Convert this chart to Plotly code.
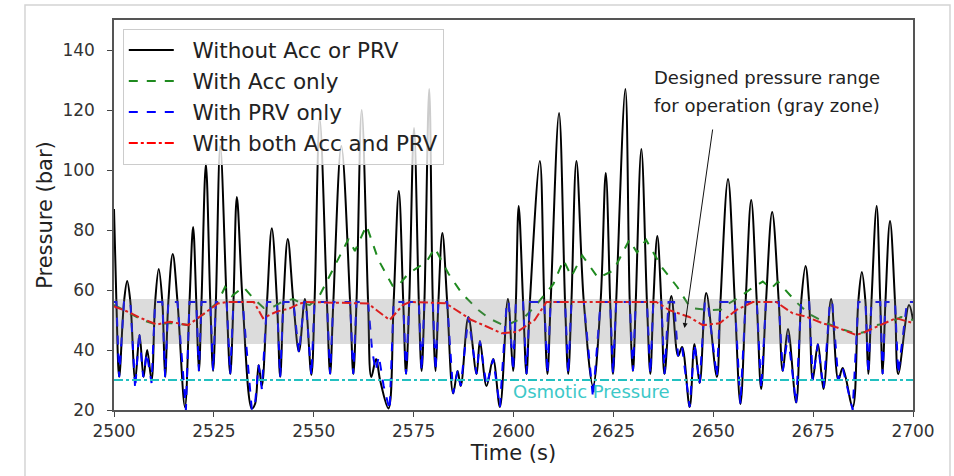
import plotly.graph_objects as go

# ---------------- data ----------------
# Without Acc or PRV: peaks, troughs and 56-bar crossings
t_none = [2500.0, 2500.6, 2501.3, 2502.5, 2503.3, 2504.1, 2505.3, 2506.4, 2507.4, 2508.3,
          2509.4, 2510.3, 2511.2, 2512.1, 2512.8, 2513.6, 2514.7, 2515.9, 2517.75, 2518.9,
          2519.8, 2520.6, 2521.25, 2521.9, 2523.0, 2524.1, 2524.8, 2525.5, 2526.6, 2528.2,
          2529.1, 2529.9, 2530.75, 2532.2, 2534.5, 2535.3, 2536.2, 2537.0, 2538.3, 2539.5,
          2540.8, 2541.6, 2542.4, 2543.5, 2544.9, 2546.3, 2547.8, 2549.4, 2550.2, 2551.5,
          2553.3, 2554.1, 2554.9, 2556.9, 2559.1, 2559.9, 2560.7, 2562.0, 2563.6, 2564.4,
          2565.6, 2566.6, 2568.7, 2570.0, 2571.3, 2572.4, 2573.1, 2573.9, 2575.1, 2576.3,
          2577.0, 2577.7, 2578.9, 2579.8, 2580.5, 2581.2, 2582.2, 2583.4, 2584.9, 2586.0,
          2586.8, 2588.7, 2590.75, 2591.6, 2593.25, 2594.9, 2596.6, 2598.6, 2599.9, 2600.6,
          2601.3, 2602.4, 2603.25, 2604.1, 2606.6, 2607.7, 2608.5, 2609.3, 2611.4, 2612.9,
          2613.7, 2614.5, 2615.75, 2617.6, 2619.9, 2621.8, 2623.1, 2624.2, 2624.9, 2625.7,
          2628.0, 2629.1, 2629.9, 2630.6, 2632.0, 2633.4, 2634.25, 2635.0, 2636.0, 2637.0,
          2637.8, 2639.5, 2641.2, 2642.2, 2644.1, 2645.3, 2646.6, 2648.25, 2650.9, 2651.8,
          2653.7, 2655.4, 2656.8, 2658.1, 2659.5, 2660.9, 2662.0, 2663.2, 2664.75, 2666.4,
          2667.4, 2668.7, 2670.75, 2672.0, 2673.1, 2674.0, 2674.9, 2676.2, 2677.6, 2679.5,
          2681.3, 2682.4, 2684.9, 2686.3, 2687.2, 2688.1, 2688.8, 2689.6, 2690.9, 2691.8,
          2692.4, 2693.1, 2694.25, 2695.5, 2696.3, 2699.0, 2700.0]
p_none = [87, 56, 31, 56, 63, 56, 30, 45, 31, 40,
          30, 56, 67, 56, 31, 56, 72, 56, 21, 56,
          81, 56, 33, 56, 102, 56, 33, 56, 108, 56,
          32, 56, 91, 56, 20.5, 22, 35, 28, 56, 80.6,
          56, 31, 56, 77, 56, 39.5, 57, 31.7, 56, 117,
          56, 32, 56, 108, 56, 32, 56, 120, 56, 31,
          37, 30, 20.5, 56, 93, 56, 32, 56, 114, 56,
          33, 56, 127, 56, 33, 56, 79, 56, 25.5, 33,
          28, 51, 32, 43, 28, 37, 21, 57, 33, 56,
          88, 56, 32, 56, 103, 56, 32, 56, 119, 56,
          32, 56, 103, 56, 28, 56, 99, 56, 32, 56,
          127, 56, 33, 56, 107, 56, 32, 56, 78, 56,
          32, 58, 38, 41, 21, 42, 29, 59, 31, 56,
          97, 56, 22, 56, 90, 56, 27, 56, 86, 56,
          33, 47, 22.5, 56, 68, 56, 30, 42, 27, 57,
          30, 34, 21, 56, 66, 56, 32, 56, 88, 56,
          32, 56, 83, 56, 32, 55, 50]

# With PRV only (clipped at the relief setting)
t_prv = [2500.0, 2500.6, 2501.3, 2502.5, 2504.1, 2505.3, 2506.3, 2507.3, 2508.2, 2509.4,
         2510.3, 2512.1, 2512.8, 2513.6, 2515.9, 2518.0, 2518.9, 2520.6, 2521.25, 2521.9,
         2524.1, 2524.8, 2525.5, 2528.2, 2529.1, 2529.9, 2532.2, 2534.5, 2535.3, 2536.2,
         2537.0, 2538.3, 2540.8, 2541.6, 2542.4, 2544.9, 2546.3, 2547.6, 2548.0, 2549.4,
         2550.2, 2553.3, 2554.1, 2554.9, 2559.1, 2559.9, 2560.7, 2563.6, 2564.6, 2565.5,
         2566.3, 2567.5, 2569.0, 2570.0, 2572.4, 2573.1, 2573.9, 2576.3, 2577.0, 2577.7,
         2579.8, 2580.5, 2581.2, 2583.4, 2584.9, 2586.0, 2586.8, 2588.7, 2590.75, 2591.6,
         2593.25, 2594.9, 2596.6, 2598.3, 2598.8, 2599.9, 2600.6, 2602.4, 2603.25, 2604.1,
         2607.7, 2608.5, 2609.3, 2612.9, 2613.7, 2614.5, 2617.6, 2619.9, 2621.8, 2624.2,
         2624.9, 2625.7, 2629.1, 2629.9, 2630.6, 2633.4, 2634.25, 2635.0, 2637.0, 2637.8,
         2638.8, 2640.2, 2641.2, 2642.2, 2644.1, 2645.3, 2646.6, 2647.9, 2648.6, 2650.9,
         2651.8, 2655.4, 2656.8, 2658.1, 2660.9, 2662.0, 2663.2, 2666.4, 2667.4, 2668.7,
         2670.75, 2672.0, 2674.0, 2674.9, 2676.2, 2677.6, 2679.2, 2679.8, 2681.3, 2682.4,
         2684.9, 2686.3, 2688.1, 2688.8, 2689.6, 2691.8, 2692.4, 2693.1, 2695.5, 2696.3,
         2698.5, 2700.0]
p_prv = [56, 56, 31, 56, 56, 27, 46, 31, 39, 29,
         56, 56, 31, 56, 56, 20, 56, 56, 33, 56,
         56, 33, 56, 56, 32, 56, 56, 20, 22, 35,
         27, 56, 56, 31, 56, 56, 39, 56, 56, 31.5,
         56, 56, 32, 56, 56, 32, 56, 56, 40, 33,
         38, 28, 20, 56, 56, 32, 56, 56, 33, 56,
         56, 33, 56, 56, 25.5, 33, 28, 51, 32, 43,
         28, 37, 21, 56, 56, 33, 56, 56, 32, 56,
         56, 32, 56, 56, 32, 56, 56, 24, 56, 56,
         32, 56, 56, 33, 56, 56, 32, 56, 56, 32,
         56, 56, 38, 41, 21, 42, 29, 56, 56, 31,
         56, 56, 22, 56, 56, 27, 56, 56, 33, 45,
         22, 56, 56, 30, 42, 27, 56, 56, 30, 34,
         20, 56, 56, 32, 56, 56, 32, 56, 56, 32,
         56, 56]

t_acc = [2500, 2503, 2507, 2510.5, 2514, 2518.6, 2523, 2526, 2527.8, 2529.5,
         2532.4, 2535, 2537.5, 2540, 2542, 2544.8, 2547, 2549, 2551.2, 2553.7,
         2556, 2558.7, 2560.3, 2563.2, 2566.2, 2569.9, 2571.5, 2573.7, 2576.6, 2578.5,
         2580.3, 2583.7, 2587, 2591.2, 2594, 2597.8, 2599.5, 2602.8, 2605, 2607.8,
         2610, 2612.5, 2614.5, 2617.2, 2621.2, 2625, 2629, 2630.9, 2633.2, 2637,
         2641, 2644.3, 2649, 2652, 2654, 2657, 2659, 2662.4, 2664.5, 2666.2,
         2670.75, 2674, 2678.25, 2682, 2685.75, 2688, 2690.75, 2694, 2697, 2700]
p_acc = [55, 53, 50, 48.5, 49, 48.3, 52.5, 56, 61, 58,
         61, 57, 54, 54.5, 56, 57, 55.5, 55, 57.5, 64,
         70, 77, 73, 81.5, 70, 61, 62, 65.5, 68, 70,
         74, 65.5, 59, 53.3, 50.5, 48, 49, 51, 54, 58.3,
         62, 70, 64.5, 71.5, 64, 66.5, 76.7, 72.5, 76.7, 67.8,
         61, 54, 53.3, 53.5, 55.6, 58, 60, 62.8, 60.5, 62.8,
         56, 52, 49, 47, 45.5, 46, 48.3, 49, 51, 50]

t_both = [2500, 2503, 2507, 2510.7, 2514, 2518.6, 2523.2, 2526, 2528.2, 2535,
          2537.3, 2540.7, 2544, 2546.5, 2548, 2563.6, 2566, 2569, 2572.3, 2574,
          2583, 2586, 2589.5, 2593, 2597, 2600.9, 2603, 2605.3, 2608.25, 2635.75,
          2639, 2644, 2647.4, 2651.6, 2655.75, 2659.9, 2665.75, 2669.9, 2673.25, 2677.4,
          2681, 2685.75, 2688, 2690.75, 2693, 2695.75, 2700]
p_both = [54.5, 53, 50.5, 48.5, 49.4, 48.3, 52.8, 55.5, 56, 56,
          50.6, 52.8, 53.9, 55.5, 56, 55.5, 53, 50, 55, 56,
          55.6, 53, 50, 48, 45.6, 46, 48, 50, 56, 56,
          53.3, 51, 48.3, 48.9, 53.3, 56, 56, 52.2, 51.1, 48.9,
          47.5, 45, 46, 47.8, 49, 50.6, 49]

series_names = ["Without Acc or PRV", "With Acc only", "With PRV only", "With both Acc and PRV"]
osmotic_pressure = 30
design_low, design_high = 42, 57
x_ticks = [2500, 2525, 2550, 2575, 2600, 2625, 2650, 2675, 2700]
y_ticks = [20, 40, 60, 80, 100, 120, 140]

# ---------------- figure ----------------
FONT = "DejaVu Sans"
PAD = "\u00a0\u00a0"
fig = go.Figure()

fig.add_trace(go.Scatter(x=t_none, y=p_none, mode="lines", name=PAD + series_names[0],
                         line=dict(color="black", width=2, shape="spline", smoothing=1.0),
                         legendgroup="a"))
fig.add_trace(go.Scatter(x=t_acc, y=p_acc, mode="lines", name=PAD + series_names[1],
                         line=dict(color="#1f8a1f", width=2, dash="dash"),
                         legendgroup="b"))
fig.add_trace(go.Scatter(x=t_prv, y=p_prv, mode="lines", name=PAD + series_names[2],
                         line=dict(color="#0000ff", width=2, dash="dash"),
                         legendgroup="c"))
fig.add_trace(go.Scatter(x=t_both, y=p_both, mode="lines", name=PAD + series_names[3],
                         line=dict(color="#ff0000", width=2, dash="dashdot"),
                         legendgroup="d"))
fig.add_trace(go.Scatter(x=[x_ticks[0], x_ticks[-1]], y=[osmotic_pressure, osmotic_pressure],
                         mode="lines", showlegend=False,
                         line=dict(color="#22c0c0", width=2, dash="dashdot")))

fig.add_shape(type="rect", xref="x", yref="y", x0=x_ticks[0], x1=x_ticks[-1],
              y0=design_low, y1=design_high, fillcolor="rgba(120,120,120,0.26)",
              line=dict(width=0), layer="above")

# outer figure frame
fig.add_shape(type="rect", xref="paper", yref="paper", x0=-0.1114, x1=1.0463,
              y0=-0.3, y1=1.0385, line=dict(color="#d4d4d4", width=1.5), layer="below")

fig.add_annotation(x=2634.75, y=131, xref="x", yref="y", text="Designed pressure range",
                   showarrow=False, xanchor="left", yanchor="middle",
                   font=dict(family=FONT, size=18, color="#222"))
fig.add_annotation(x=2634.75, y=121.5, xref="x", yref="y", text="for operation (gray zone)",
                   showarrow=False, xanchor="left", yanchor="middle",
                   font=dict(family=FONT, size=18, color="#222"))
fig.add_annotation(x=2642.8, y=47.3, ax=2649.9, ay=114, xref="x", yref="y",
                   axref="x", ayref="y", text="", showarrow=True, arrowhead=2,
                   arrowsize=1, arrowwidth=1, arrowcolor="#111")
fig.add_annotation(x=2619.5, y=26.3, xref="x", yref="y", text="Osmotic Pressure",
                   showarrow=False, font=dict(family=FONT, size=18, color="#3cc8c8"))

fig.update_layout(
    width=954, height=476, autosize=False,
    margin=dict(l=114, r=41, t=20, b=66, autoexpand=False),
    paper_bgcolor="white", plot_bgcolor="white",
    font=dict(family=FONT, size=17, color="#333"),
    legend=dict(x=0.011, y=0.978, xanchor="left", yanchor="top",
                bgcolor="rgba(255,255,255,0.8)", bordercolor="#cccccc", borderwidth=1,
                font=dict(family=FONT, size=21.5, color="#222"), tracegroupgap=0,
                itemwidth=45),
    showlegend=True,
)
fig.update_xaxes(range=[2500, 2700], tickvals=x_ticks, ticks="outside", ticklen=5,
                 tickcolor="#444", showgrid=False, zeroline=False, showline=True,
                 mirror=True, linecolor="#555", linewidth=1.5, automargin=False,
                 tickfont=dict(family=FONT, size=17, color="#333"),
                 title=dict(text="Time (s)", font=dict(family=FONT, size=21, color="#222"),
                            standoff=4))
fig.update_yaxes(range=[20, 150], tickvals=y_ticks, ticks="outside", ticklen=5,
                 tickcolor="#444", showgrid=False, zeroline=False, showline=True,
                 mirror=True, linecolor="#555", linewidth=1.5, automargin=False,
                 ticklabelstandoff=9,
                 tickfont=dict(family=FONT, size=17, color="#333"),
                 title=dict(text="Pressure (bar)", font=dict(family=FONT, size=21, color="#222"),
                            standoff=4))

fig.write_html("out.html", post_script="document.body.style.margin='0px';",
               config={"displayModeBar": False})
